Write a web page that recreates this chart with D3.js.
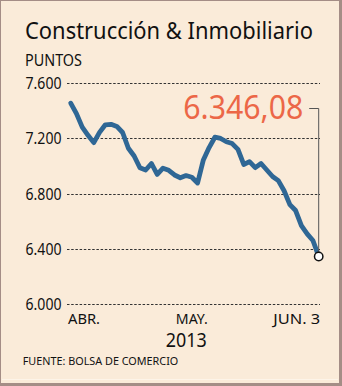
<!DOCTYPE html>
<html>
<head>
<meta charset="utf-8">
<script src="https://cdn.jsdelivr.net/npm/d3@7"></script>
<style>
  html, body { margin: 0; padding: 0; background: #ffffff; }
  svg { display: block; }
  text { font-family: "Noto Sans", "DejaVu Sans", sans-serif; }
</style>
</head>
<body>
<div id="chart"></div>
<script>
// Construcción & Inmobiliario index, daily close (puntos), abril – 3 de junio 2013
const tradingDays = [
  "2013-04-01","2013-04-02","2013-04-03","2013-04-04","2013-04-05",
  "2013-04-08","2013-04-09","2013-04-10","2013-04-11","2013-04-12",
  "2013-04-15","2013-04-16","2013-04-17","2013-04-18","2013-04-19",
  "2013-04-22","2013-04-23","2013-04-24","2013-04-25","2013-04-26",
  "2013-04-29","2013-04-30",
  "2013-05-02","2013-05-03",
  "2013-05-06","2013-05-07","2013-05-08","2013-05-09","2013-05-10",
  "2013-05-13","2013-05-14","2013-05-15","2013-05-16","2013-05-17",
  "2013-05-20","2013-05-22","2013-05-23","2013-05-24",
  "2013-05-27","2013-05-28","2013-05-29","2013-05-30","2013-05-31",
  "2013-06-03"
];
const closeValues = [
  7454, 7379, 7281, 7222, 7169,
  7243, 7298, 7301, 7286, 7242,
  7128, 7072, 6987, 6971, 7018,
  6939, 6984, 6969, 6935, 6915,
  6931, 6919,
  6877, 7044,
  7133, 7208, 7199, 7175, 7162,
  7120, 7011, 7031, 6988, 7018,
  6971, 6924, 6894, 6821,
  6721, 6678, 6569, 6509, 6461,
  6346.08
];
const yTicks = [6000, 6400, 6800, 7200, 7600];
const xTickLabels = ["ABR.", "MAY.", "JUN. 3"];
const xTickDays = ["2013-04-01", "2013-04-30", "2013-06-03"];
const titleText = "Construcción & Inmobiliario";
const unitText = "PUNTOS";
const yearText = "2013";
const sourceText = "FUENTE: BOLSA DE COMERCIO";

const W = 342, H = 386;
const fmtThousands = d3.formatLocale({ decimal: ",", thousands: ".", grouping: [3], currency: ["", ""] });
const fmtTick = fmtThousands.format(",.0f");
const fmtLast = fmtThousands.format(",.2f");

const svg = d3.select("#chart").append("svg")
  .attr("width", W).attr("height", H);

// panel background and frame
svg.append("rect").attr("x", 0).attr("y", 0).attr("width", W).attr("height", H)
  .attr("fill", "#a48d86");
svg.append("rect").attr("x", 1).attr("y", 1).attr("width", W - 4).attr("height", H - 4)
  .attr("fill", "#faebd9");
svg.append("rect").attr("x", 2).attr("y", H - 7).attr("width", W - 6).attr("height", 1)
  .attr("fill", "#fdf4e8");

const data = tradingDays.map((d, i) => ({ day: d, i, value: closeValues[i] }));

const x = d3.scaleLinear().domain([0, tradingDays.length - 1]).range([70.7, 318.7]);
const y = d3.scaleLinear().domain([6000, 7600]).range([304.3, 83]);
const xOf = day => x(tradingDays.indexOf(day));

// fit a text element to a target width
function fit(sel, width) {
  const n = sel.node();
  const w = n.getComputedTextLength();
  if (Math.abs(w - width) > 0.5) {
    sel.attr("textLength", width).attr("lengthAdjust", "spacingAndGlyphs");
  }
  return sel;
}

// title and unit
fit(svg.append("text").attr("x", 25).attr("y", 39.3)
  .attr("font-size", 24).attr("fill", "#111").text(titleText), 288);
fit(svg.append("text").attr("x", 25).attr("y", 65.7)
  .attr("font-size", 16.5).attr("fill", "#111").text(unitText), 57);

// y axis: dashed grid lines with labels
const yAxis = d3.axisLeft(y).tickValues(yTicks).tickSize(0).tickPadding(0).tickFormat(fmtTick);
const gy = svg.append("g").attr("transform", "translate(61.5,0)").call(yAxis);
gy.select(".domain").remove();
gy.selectAll(".tick text")
  .attr("font-size", 15.5).attr("fill", "#111")
  .attr("font-family", "\"Noto Sans\", sans-serif")
  .attr("dy", "0.36em")
  .each(function () { fit(d3.select(this), 36); });
svg.append("g").selectAll("line").data(yTicks).join("line")
  .attr("x1", 67).attr("x2", 320)
  .attr("y1", d => Math.round(y(d)) + 0.5).attr("y2", d => Math.round(y(d)) + 0.5)
  .attr("stroke", "#333").attr("stroke-width", 1)
  .attr("stroke-dasharray", "2.5,1.7");

// month labels and year, set in a font with compact line metrics
const bottomFont = "\"Liberation Sans\", Arial, sans-serif";
const xAnchors = ["start", "middle", "end"];
const xShift = [-2.7, 0, 1.5];
const xWidths = [32, 32, 47];
svg.append("g").selectAll("text").data(xTickLabels).join("text")
  .attr("x", (d, i) => xOf(xTickDays[i]) + xShift[i])
  .attr("y", 324.3)
  .attr("text-anchor", (d, i) => xAnchors[i])
  .attr("font-family", bottomFont)
  .attr("font-size", 13.5).attr("fill", "#111")
  .text(d => d)
  .each(function (d, i) { fit(d3.select(this), xWidths[i]); });

fit(svg.append("text").attr("x", 165.7).attr("y", 347.3)
  .attr("font-family", bottomFont)
  .attr("font-size", 19).attr("fill", "#111").text(yearText), 41);
fit(svg.append("text").attr("x", 22.7).attr("y", 365)
  .attr("font-size", 11.5).attr("fill", "#111").text(sourceText), 155.6);

// index line
const line = d3.line().x(d => x(d.i)).y(d => y(d.value)).curve(d3.curveLinear);
svg.append("path").datum(data)
  .attr("d", line)
  .attr("fill", "none").attr("stroke", "#2f6795")
  .attr("stroke-width", 4.8)
  .attr("stroke-linejoin", "round").attr("stroke-linecap", "round");

// last value callout
const last = data[data.length - 1];
const lx = x(last.i), ly = y(last.value);
svg.append("path")
  .attr("d", `M${lx - 9.5},108.5 H${lx} V${ly}`)
  .attr("fill", "none").attr("stroke", "#555").attr("stroke-width", 1);
svg.append("circle").attr("cx", lx).attr("cy", ly).attr("r", 4.2)
  .attr("fill", "#fff").attr("stroke", "#111").attr("stroke-width", 1.5);
fit(svg.append("text").attr("x", 303.3).attr("y", 119.3)
  .attr("text-anchor", "end")
  .attr("font-size", 32.5).attr("fill", "#ec6747")
  .text(fmtLast(last.value)), 120);
</script>
</body>
</html>
